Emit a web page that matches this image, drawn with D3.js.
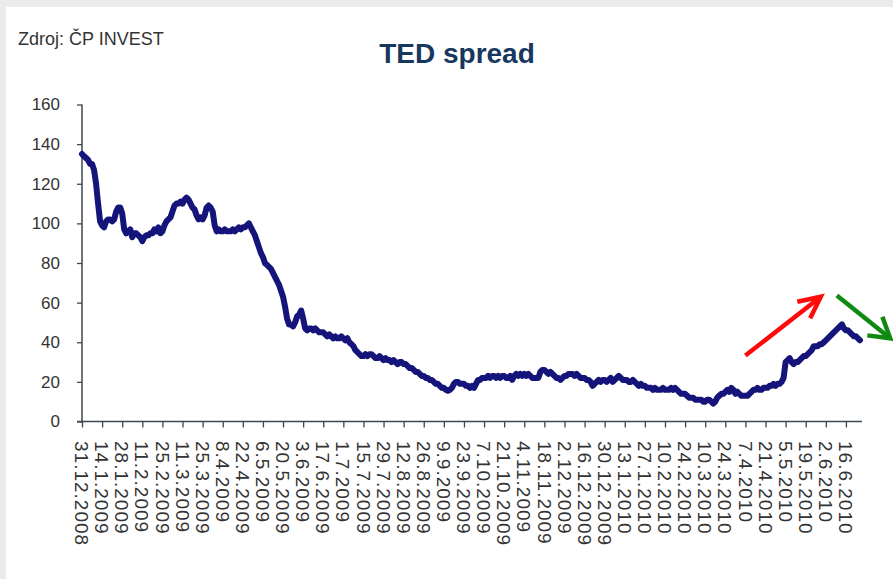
<!DOCTYPE html>
<html>
<head>
<meta charset="utf-8">
<script src="https://cdn.jsdelivr.net/npm/d3@7"></script>
<style>
  html, body { margin: 0; padding: 0; background: #ebebeb; }
  svg { display: block; }
  text { font-family: "Liberation Sans", Arial, sans-serif; }
</style>
</head>
<body>
<svg id="chart" width="893" height="579"></svg>
<script>
// TED spread (basis points), one value per business day from 31.12.2008
const values = [
  135,134,133,132,130,130,127,120,110,101,
  99,98,101,102,102,101,102,106,108,108,
  105,97,95,96,97,93,95,95,94,93,
  91,93,94,94,95,95,97,96,98,95,
  96,99,101,102,103,106,109,110,110,111,
  110,112,113,112,110,108,107,104,102,103,
  102,104,108,109,108,106,99,96,97,96,
  96,97,96,96,96,97,96,97,98,97,
  98,98,99,100,98,96,94,91,88,85,
  83,80,79,78,77,75,73,71,69,66,
  63,58,52,49,49,48,50,53,54,56,
  52,47,46,47,47,46,47,46,45,45,
  45,44,43,44,43,42,43,42,42,43,
  42,41,42,40,39,38,36,35,34,33,
  33,34,33,34,34,33,32,32,33,32,
  31,32,31,31,30,31,30,29,30,30,
  29,29,28,27,27,26,25,25,24,23,
  23,22,22,21,21,20,19,19,18,17,
  17,16,15.5,16,17,19,20,20,19,19,
  19,18,18,17,18,17,19,21,21,22,
  22,22,23,22,23,23,22,23,22,23,
  23,22,22,23,21,23,24,23,24,23,
  24,23,24,23,22,22,22,22,25,26,
  26,25,24,25,24,23,22,22,21,22,
  23,23,24,24,24,23,24,23,22,22,
  22,21,21,20,18,19,20,21,20,21,
  21,20,21,22,20,21,22,23,22,21,
  21,21,20,20,21,20,19,18,19,18,
  18,17,17,17,16,17,16,16,16,17,
  16,16,16,17,16,17,16,15,14,14,
  14,13,12,12,12,11,11,11,11,10,
  10,11,11,10,9,10,12,13,14,14,
  15,16,15,17,16,14,15,14,13,13,
  13,13,14,15,16,16,17,16,16,17,
  17,17,18,18,19,18,19,19,20,22,
  30,31,32,30,29,30,30,31,32,33,
  33,34,35,36,38,38,38,39,39,40,
  41,42,43,44,45,46,47,48,49,47,
  46,46,45,44,43,43,42,41
];

// category labels, one every 10 business days
const tickLabels = [
  "31.12.2008","14.1.2009","28.1.2009","11.2.2009","25.2.2009","11.3.2009",
  "25.3.2009","8.4.2009","22.4.2009","6.5.2009","20.5.2009","3.6.2009",
  "17.6.2009","1.7.2009","15.7.2009","29.7.2009","12.8.2009","26.8.2009",
  "9.9.2009","23.9.2009","7.10.2009","21.10.2009","4.11.2009","18.11.2009",
  "2.12.2009","16.12.2009","30.12.2009","13.1.2010","27.1.2010","10.2.2010",
  "24.2.2010","10.3.2010","24.3.2010","7.4.2010","21.4.2010","5.5.2010",
  "19.5.2010","2.6.2010","16.6.2010"
];
const labelStep = 10;

const yTicks = [0, 20, 40, 60, 80, 100, 120, 140, 160];

// trend arrows, in [index, value] pairs: tail -> head
const arrowUp = [[330, 33.3], [367.5, 63]];
const arrowDown = [[375.5, 63.6], [402, 42]];

const svg = d3.select("#chart");

// white panel
svg.append("rect")
  .attr("x", 6).attr("y", 7)
  .attr("width", 893 - 6).attr("height", 579 - 7)
  .attr("fill", "#ffffff");

const x = d3.scaleLinear().domain([0, 388]).range([82, 862]);
const y = d3.scaleLinear().domain([0, 160]).range([421.5, 104.5]);

const axisColor = "#3d4751";
const textColor = "#333333";

// titles
svg.append("text")
  .attr("x", 18).attr("y", 45)
  .attr("font-size", 18)
  .attr("fill", textColor)
  .text("Zdroj: ČP INVEST");

svg.append("text")
  .attr("x", 457).attr("y", 63)
  .attr("text-anchor", "middle")
  .attr("font-size", 28)
  .attr("font-weight", "bold")
  .attr("fill", "#17375e")
  .text("TED spread");

// y axis
const yAxis = d3.axisLeft(y)
  .tickValues(yTicks)
  .tickSize(5)
  .tickPadding(17)
  .tickFormat(d3.format("d"));

const gy = svg.append("g")
  .attr("transform", `translate(${x(0)},0)`)
  .call(yAxis);
gy.select(".domain").remove();
gy.selectAll(".tick line").attr("stroke", axisColor).attr("stroke-width", 1.3);
gy.selectAll(".tick text")
  .attr("font-size", 17)
  .attr("fill", textColor)
  .style("font-family", "'Liberation Sans', Arial, sans-serif");

svg.append("line")
  .attr("x1", x(0)).attr("x2", x(0))
  .attr("y1", y(160)).attr("y2", y(0) + 1)
  .attr("stroke", axisColor).attr("stroke-width", 1.5);

// x axis
const tickIdx = tickLabels.map((_, i) => i * labelStep);
const xAxis = d3.axisBottom(x)
  .tickValues(tickIdx)
  .tickSize(6)
  .tickFormat(() => "");

const gx = svg.append("g")
  .attr("transform", `translate(0,${y(0)})`)
  .call(xAxis);
gx.select(".domain").remove();
gx.selectAll(".tick line").attr("stroke", axisColor).attr("stroke-width", 1.3);

svg.append("line")
  .attr("x1", x(0) - 5).attr("x2", x(388))
  .attr("y1", y(0)).attr("y2", y(0))
  .attr("stroke", axisColor).attr("stroke-width", 1.5);

svg.append("g")
  .selectAll("text")
  .data(tickLabels)
  .join("text")
  .attr("transform", (d, i) => `translate(${x(i * labelStep)},441) rotate(90)`)
  .attr("dy", "0.36em")
  .attr("font-size", 19)
  .attr("letter-spacing", 1)
  .attr("fill", textColor)
  .text(d => d);

// series line
const line = d3.line()
  .x((d, i) => x(i))
  .y(d => y(d));

svg.append("path")
  .datum(values)
  .attr("d", line)
  .attr("fill", "none")
  .attr("stroke", "#14147a")
  .attr("stroke-width", 6)
  .attr("stroke-linejoin", "round")
  .attr("stroke-linecap", "round");

// arrows
function drawArrow(pts, color, spread, len) {
  const [p0, p1] = pts.map(p => [x(p[0]), y(p[1])]);
  const ang = Math.atan2(p0[1] - p1[1], p0[0] - p1[0]);
  const a1 = ang + spread, a2 = ang - spread;
  const h1 = [p1[0] + len * Math.cos(a1), p1[1] + len * Math.sin(a1)];
  const h2 = [p1[0] + len * Math.cos(a2), p1[1] + len * Math.sin(a2)];
  const g = svg.append("g")
    .attr("stroke", color)
    .attr("stroke-width", 4.5)
    .attr("fill", "none")
    .attr("stroke-linecap", "butt")
    .attr("stroke-linejoin", "miter");
  g.append("line")
    .attr("x1", p0[0]).attr("y1", p0[1])
    .attr("x2", p1[0]).attr("y2", p1[1]);
  g.append("path")
    .attr("d", `M${h1[0]},${h1[1]}L${p1[0]},${p1[1]}L${h2[0]},${h2[1]}`);
}

drawArrow(arrowUp, "#ff0a0a", 0.45, 24);
drawArrow(arrowDown, "#118a11", 0.55, 23);
</script>
</body>
</html>
